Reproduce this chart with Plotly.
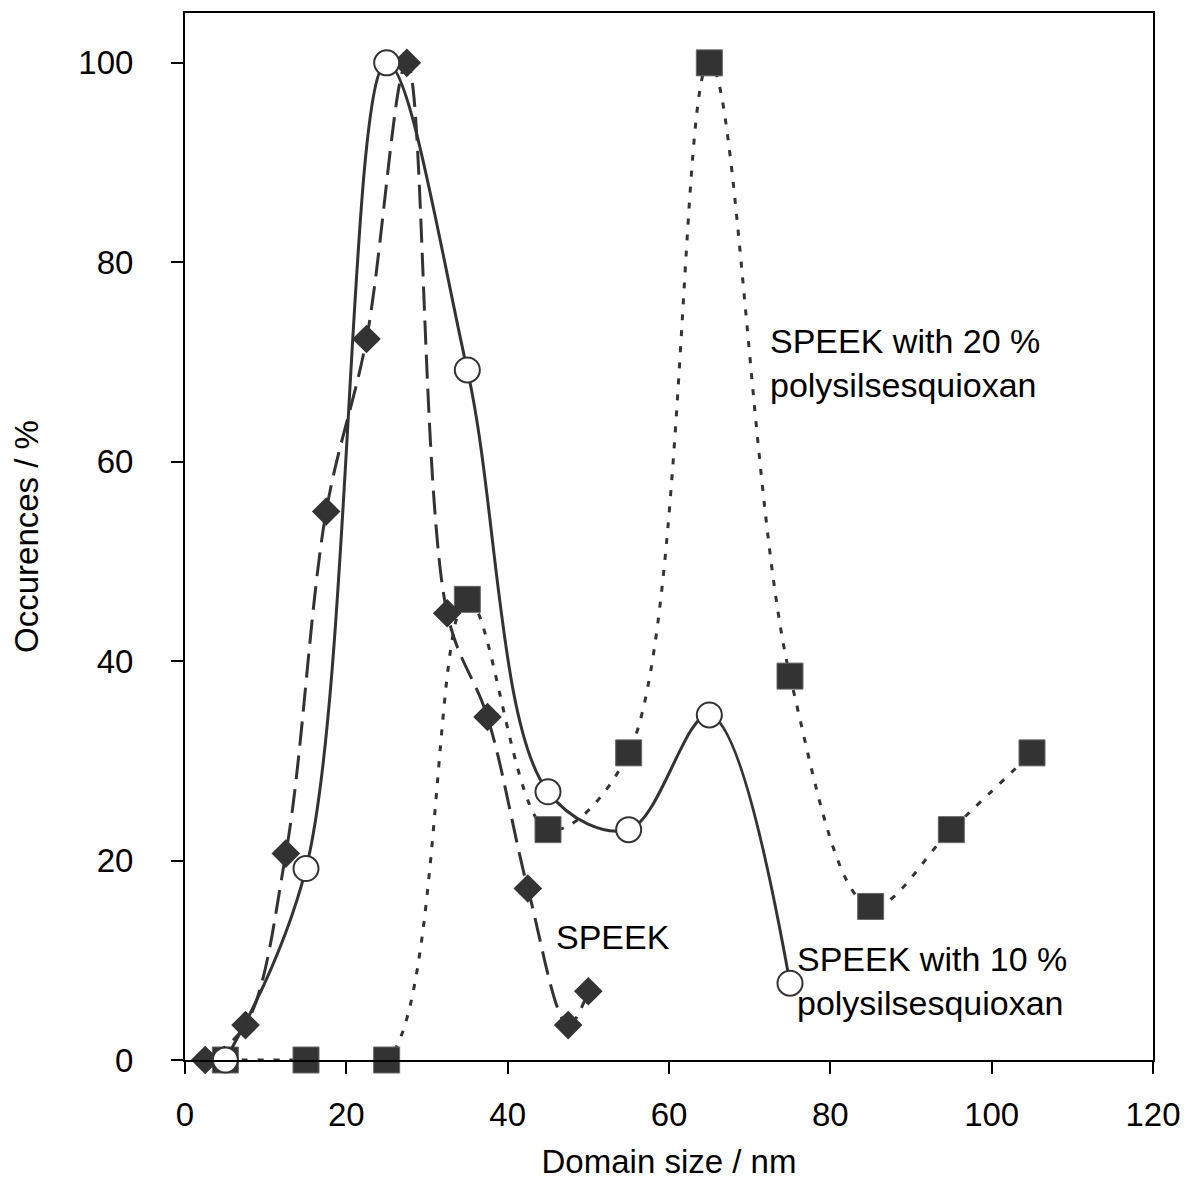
import plotly.graph_objects as go

# SPEEK (diamonds, long dash)
speek_x = [2.5, 7.5, 12.5, 17.5, 22.5, 27.5, 32.5, 37.5, 42.5, 47.5, 50.0]
speek_y = [0.0, 3.5, 20.7, 55.0, 72.3, 100.0, 44.8, 34.4, 17.2, 3.5, 6.9]

# SPEEK with 10 % polysilsesquioxan (open circles, solid)
p10_x = [5, 15, 25, 35, 45, 55, 65, 75]
p10_y = [0.0, 19.2, 100.0, 69.2, 26.9, 23.1, 34.6, 7.7]

# SPEEK with 20 % polysilsesquioxan (squares, dotted)
p20_x = [5, 15, 25, 35, 45, 55, 65, 75, 85, 95, 105]
p20_y = [0.0, 0.0, 0.0, 46.2, 23.1, 30.8, 100.0, 38.5, 15.4, 23.1, 30.8]

x_ticks = [0, 20, 40, 60, 80, 100, 120]
y_ticks = [0, 20, 40, 60, 80, 100]

C = "#333333"
FONT = "Liberation Sans, Arial, sans-serif"
FS = 33
AFS = 34

fig = go.Figure()

fig.add_trace(go.Scatter(
    x=p20_x, y=p20_y, mode="lines+markers", name="20 %",
    line=dict(color=C, width=3, dash="6px,10px", shape="spline", smoothing=1),
    marker=dict(symbol="square", size=26, color=C, line=dict(color="#666666", width=1)),
    cliponaxis=False))

fig.add_trace(go.Scatter(
    x=speek_x, y=speek_y, mode="lines+markers", name="SPEEK",
    line=dict(color=C, width=3, dash="24px,10px", shape="spline", smoothing=1),
    marker=dict(symbol="diamond", size=22, color=C),
    cliponaxis=False))

fig.add_trace(go.Scatter(
    x=p10_x, y=p10_y, mode="lines+markers", name="10 %",
    line=dict(color=C, width=3, shape="spline", smoothing=1),
    marker=dict(symbol="circle", size=25, color="white", line=dict(color=C, width=2)),
    cliponaxis=False))

fig.add_annotation(x=72.3, y=69.9, xref="x", yref="y", xanchor="left", yanchor="middle",
                   text="SPEEK with 20 %<br>polysilsesquioxan", showarrow=False, align="left",
                   font=dict(family=FONT, size=AFS, color="black"))
fig.add_annotation(x=45.8, y=12.3, xref="x", yref="y", xanchor="left", yanchor="middle",
                   text="SPEEK", showarrow=False, align="left",
                   font=dict(family=FONT, size=AFS, color="black"))
fig.add_annotation(x=75.6, y=7.9, xref="x", yref="y", xanchor="left", yanchor="middle",
                   text="SPEEK with 10 %<br>polysilsesquioxan", showarrow=False, align="left",
                   font=dict(family=FONT, size=AFS, color="black"))

fig.update_layout(
    width=1194, height=1192,
    margin=dict(l=185, r=41, t=11, b=132),
    paper_bgcolor="white", plot_bgcolor="white",
    showlegend=False,
    font=dict(family=FONT, size=FS, color="black"),
)
fig.update_xaxes(
    range=[0, 120], tickvals=x_ticks, ticks="outside", ticklen=12, tickwidth=1.5,
    tickcolor="black", showline=True, linecolor="black", linewidth=2, mirror=True,
    showgrid=False, zeroline=False, ticklabelstandoff=12,
    title=dict(text="Domain size / nm", font=dict(size=FS), standoff=18),
)
fig.update_yaxes(
    range=[0, 105], tickvals=y_ticks, ticks="outside", ticklen=12, tickwidth=1.5,
    tickcolor="black", showline=True, linecolor="black", linewidth=2, mirror=True,
    showgrid=False, zeroline=False, ticklabelstandoff=31,
    title=dict(text="Occurences / %", font=dict(size=FS), standoff=30),
)

fig.write_html("out.html")
